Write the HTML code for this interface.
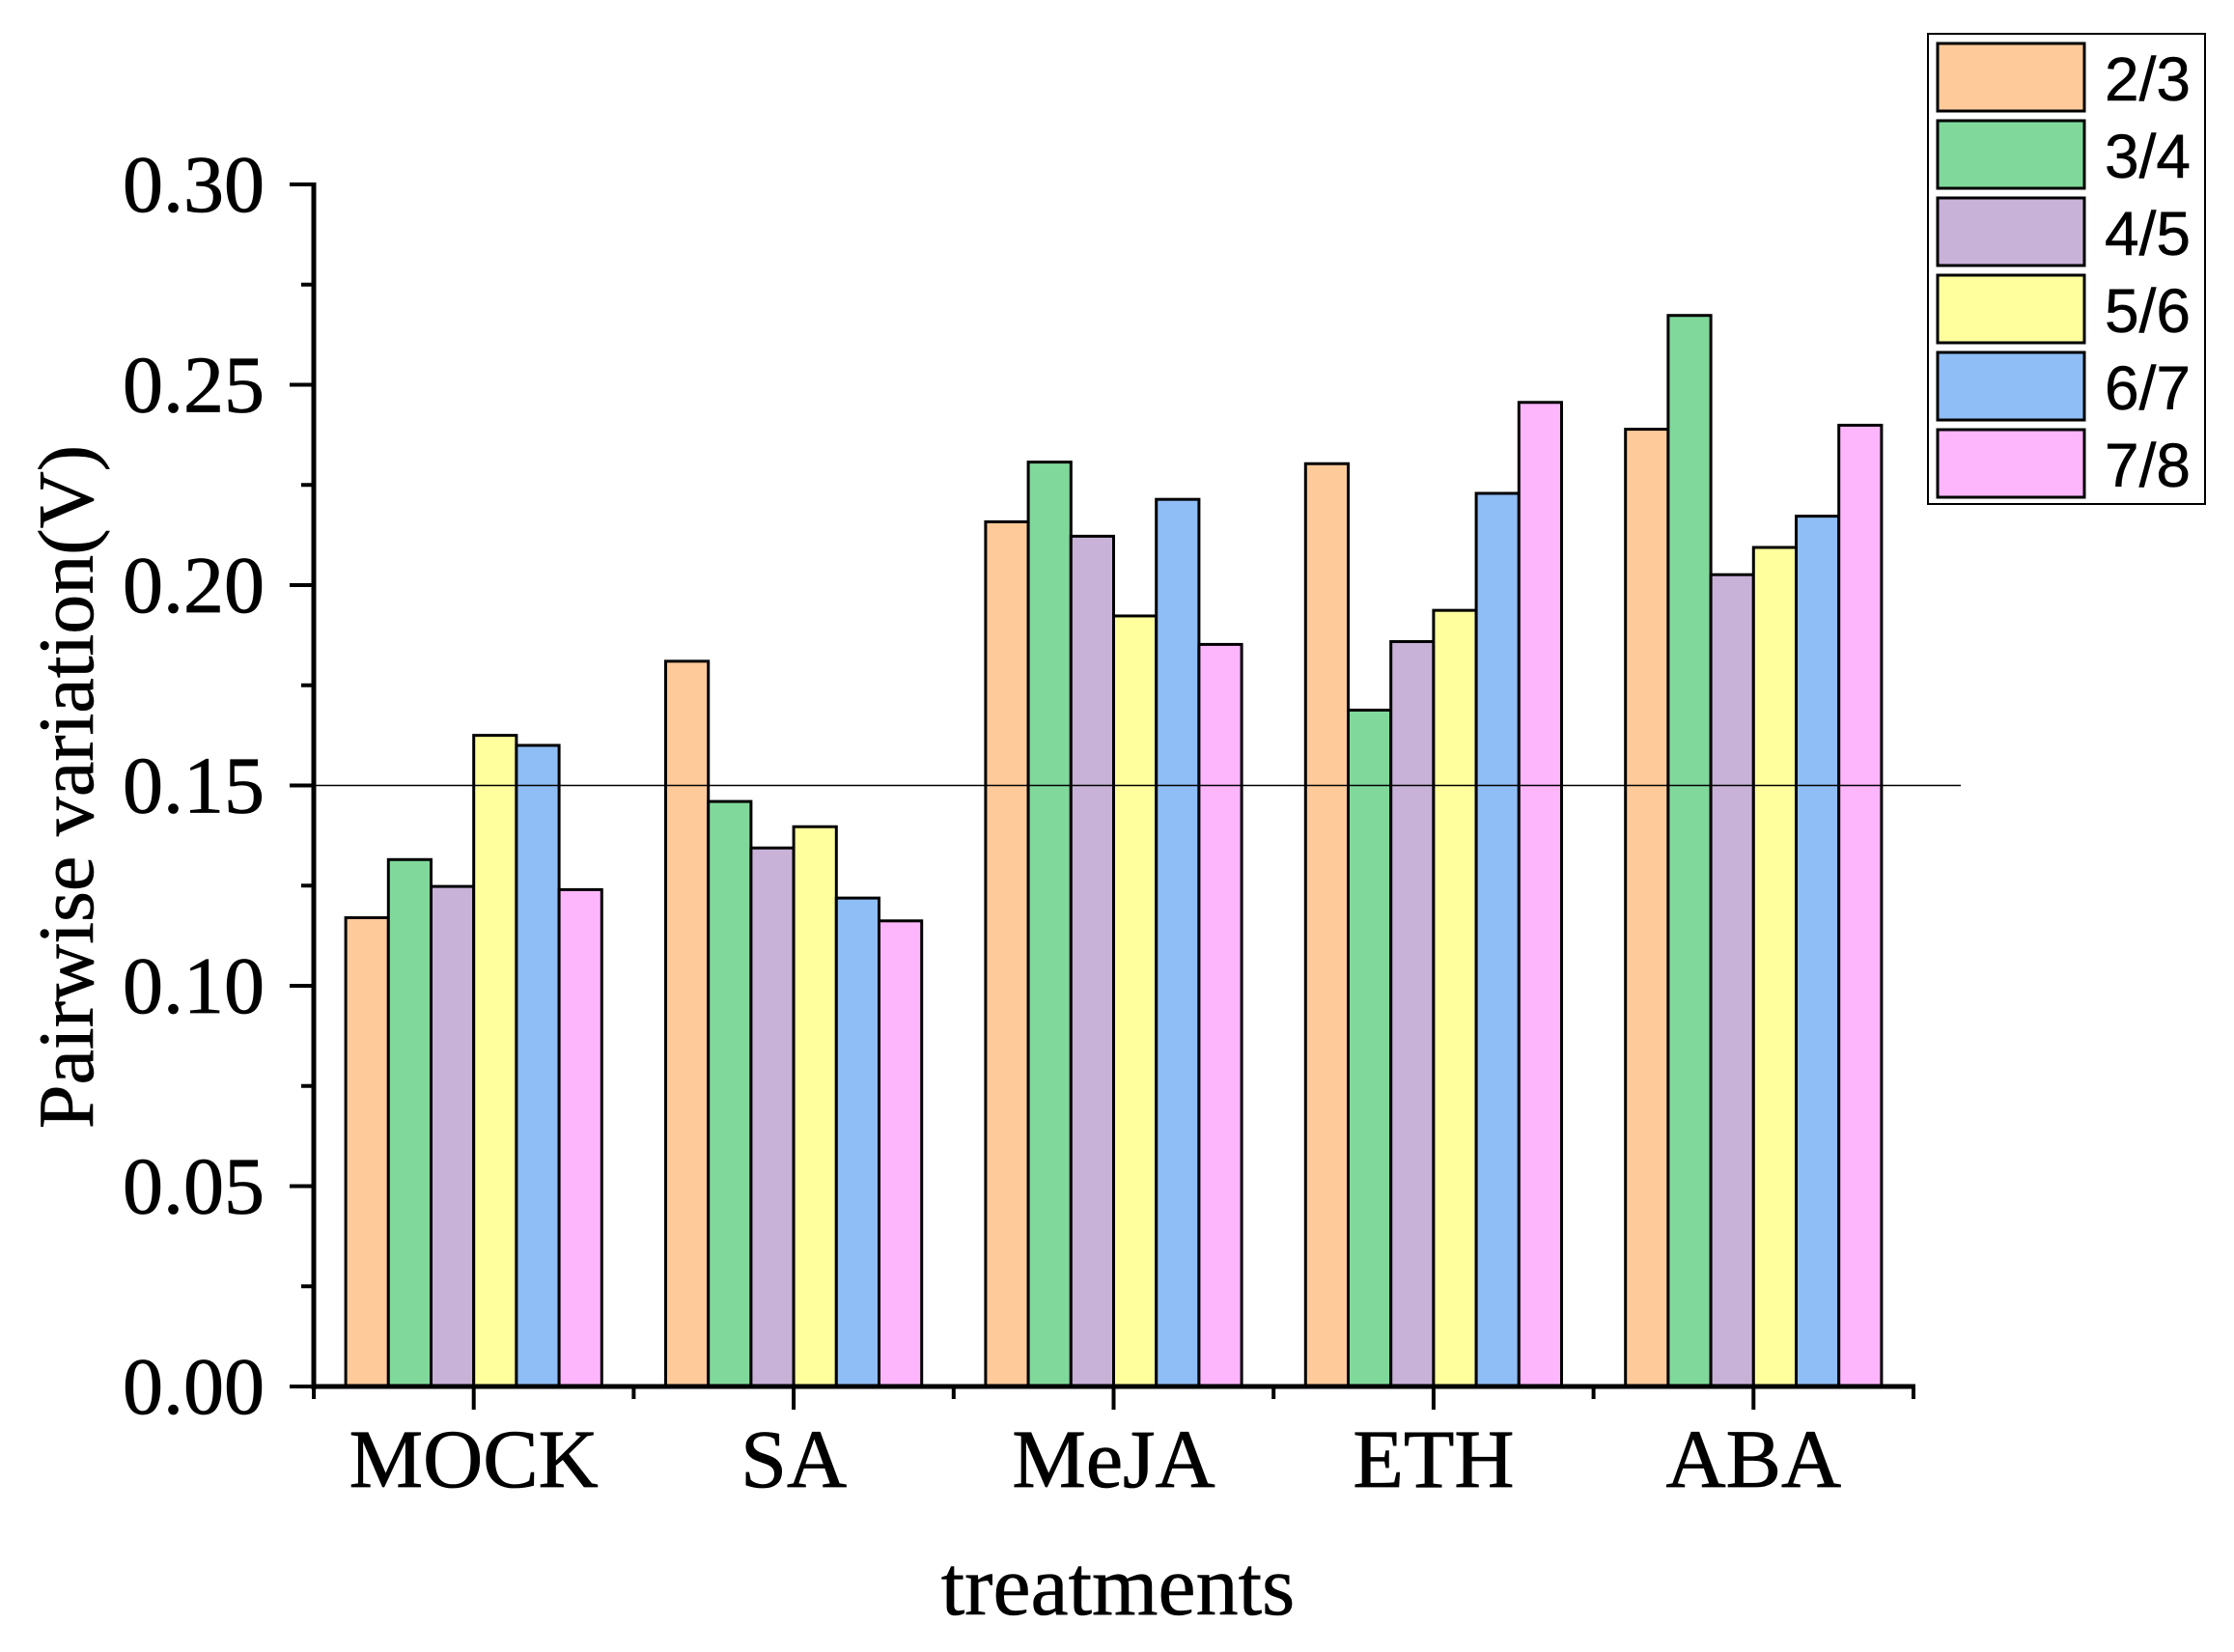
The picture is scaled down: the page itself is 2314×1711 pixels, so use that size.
<!DOCTYPE html>
<html><head><meta charset="utf-8"><style>
html,body{margin:0;padding:0;background:#fff;}
svg{display:block;}
</style></head><body>
<svg id="chart" width="2314" height="1711" viewBox="0 0 2314 1711" xmlns="http://www.w3.org/2000/svg"></svg>
<script>
const categories = ["MOCK","SA","MeJA","ETH","ABA"];
const seriesNames = ["2/3","3/4","4/5","5/6","6/7","7/8"];
const seriesColors = ["#FFCA99","#80D99B","#C8B2D8","#FFFF9E","#8FBDF5","#FDB5FC"];
const s23 = [0.117,0.181,0.2158,0.2303,0.2389];
const s34 = [0.1315,0.146,0.2307,0.1688,0.2673];
const s45 = [0.1248,0.1344,0.2122,0.1859,0.2026];
const s56 = [0.1625,0.1397,0.1923,0.1937,0.2094];
const s67 = [0.160,0.1219,0.2214,0.2229,0.2172];
const s78 = [0.124,0.1162,0.1852,0.2456,0.2399];
const yTicks = ["0.00","0.05","0.10","0.15","0.20","0.25","0.30"];
const refLine = 0.15;
const series = [s23,s34,s45,s56,s67,s78];

const NS="http://www.w3.org/2000/svg";
const svg=document.getElementById('chart');
function mk(tag,attrs,parent){const e=document.createElementNS(NS,tag);for(const k in attrs)e.setAttribute(k,attrs[k]);(parent||svg).appendChild(e);return e;}
const x0=325,x1=1982,yBase=1436,yTop=191;
const yScale=v=>yBase-(v/0.30)*(yBase-yTop);
const catW=(x1-x0)/categories.length;
const xCenter=i=>x0+catW*(i+0.5);
const barW=44.2;

series.forEach((s,si)=>{
  s.forEach((v,ci)=>{
    const bx=xCenter(ci)-3*barW+si*barW;
    const r=mk('rect',{x:bx,y:yScale(v),width:barW,height:yBase-yScale(v),fill:seriesColors[si],stroke:'#000','stroke-width':3});
    
    
  });
});
const rl=mk('line',{x1:x0,x2:2031,y1:yScale(refLine),y2:yScale(refLine),stroke:'#000','stroke-width':1.5});


const ya=mk('line',{x1:x0,x2:x0,y1:yTop-2,y2:yBase+3,stroke:'#000','stroke-width':5});


const xa=mk('line',{x1:x0-2,x2:x1+2,y1:yBase,y2:yBase,stroke:'#000','stroke-width':5});


yTicks.forEach((t,i)=>{
  const v=parseFloat(t);const y=yScale(v);
  const tk=mk('line',{x1:x0-25,x2:x0,y1:y,y2:y,stroke:'#000','stroke-width':4});
  
  
  const lb=mk('text',{x:274,y:y+28,'text-anchor':'end','font-family':'Liberation Serif, serif','font-size':84,stroke:'#000','stroke-width':0.8});
  lb.textContent=t;
  
  
  if(i<yTicks.length-1){
    const ym=yScale(v+0.025);
    const mt=mk('line',{x1:x0-13,x2:x0,y1:ym,y2:ym,stroke:'#000','stroke-width':4});
    
    
  }
});
categories.forEach((c,i)=>{
  const x=xCenter(i);
  const tk=mk('line',{x1:x,x2:x,y1:yBase,y2:yBase+24,stroke:'#000','stroke-width':4});
  
  
  const lb=mk('text',{x:x,y:1540,'text-anchor':'middle','font-family':'Liberation Serif, serif','font-size':86,stroke:'#000','stroke-width':0.8});
  lb.textContent=c;
  
  
});
for(let i=0;i<=categories.length;i++){
  const x=x0+catW*i;
  const mt=mk('line',{x1:x,x2:x,y1:yBase,y2:yBase+13,stroke:'#000','stroke-width':4});
  
  
}
const xt=mk('text',{x:1158,y:1672,'text-anchor':'middle','font-family':'Liberation Serif, serif','font-size':88,stroke:'#000','stroke-width':0.6});
xt.textContent='treatments';


const yt=mk('text',{x:0,y:0,'text-anchor':'middle','font-family':'Liberation Serif, serif','font-size':82,stroke:'#000','stroke-width':0.6,transform:'translate(96,815) rotate(-90)'});
yt.textContent='Pairwise variation(V)';


const lg=mk('g',{});


const lbx=mk('rect',{x:1997,y:35,width:287,height:487,fill:'#fff',stroke:'#000','stroke-width':2},lg);


seriesNames.forEach((n,i)=>{
  const y=45+i*80;
  const sw=mk('rect',{x:2007,y:y,width:152,height:70,fill:seriesColors[i],stroke:'#000','stroke-width':3},lg);
  
  
  const tx=mk('text',{x:2180,y:y+59,'font-family':'Liberation Sans, sans-serif','font-size':64,stroke:'#000','stroke-width':0.5},lg);
  tx.textContent=n;
  
  
});
</script>
</body></html>
